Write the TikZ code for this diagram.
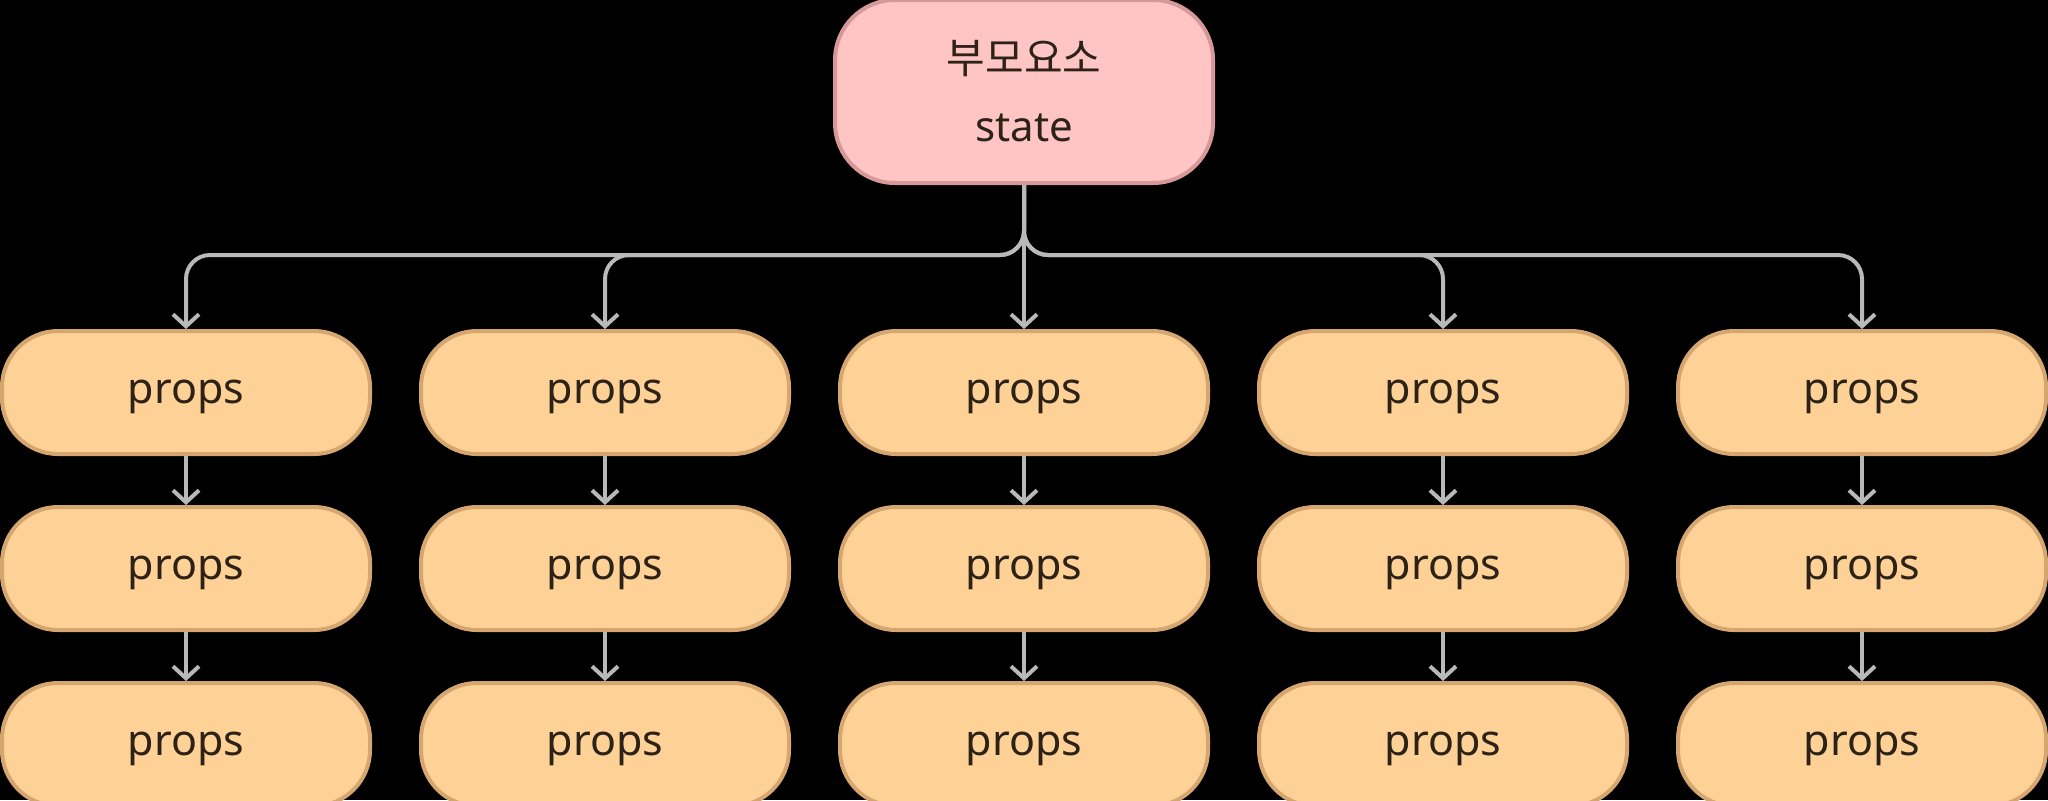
\documentclass[tikz,border=0pt]{standalone}
\usepackage{fontspec}
\setmainfont{Noto Sans}
\newfontfamily\kr{Noto Sans CJK KR}
\usetikzlibrary{positioning,arrows.meta}
\definecolor{pinkfill}{RGB}{255,197,197}
\definecolor{pinkline}{RGB}{214,152,152}
\definecolor{peachfill}{RGB}{254,209,150}
\definecolor{peachline}{RGB}{214,166,112}
\definecolor{ink}{RGB}{45,34,24}
\definecolor{wire}{RGB}{185,185,185}

\begin{document}
\begin{tikzpicture}[x=0.5pt, y=-0.5pt,
    parent/.style={draw=pinkline, fill=pinkfill, line width=2pt, rounded corners=30pt,
      minimum width=189pt, minimum height=91.5pt, align=center, text=ink,
      font=\fontsize{21pt}{34pt}\selectfont},
    child/.style={draw=peachline, fill=peachfill, line width=2pt, rounded corners=28pt,
      minimum width=184pt, minimum height=61.5pt, text=ink, text height=15pt, text depth=4pt,
      font=\fontsize{21.5pt}{25pt}\selectfont},
    link/.style={draw=wire, line width=2pt, -{Straight Barb[length=6pt,width=13pt]}}]
\useasboundingbox[fill=black] (0,0) rectangle (2048,800);
    \node[parent] (0) at (1024,91.5) {{\kr 부모요소}\\state};
    \node[child] (13) [below=72pt of 0] {props};
    \node[child] (12) [left=23.5pt of 13] {props};
    \node[child] (11) [left=23.5pt of 12] {props};
    \node[child] (14) [right=23.5pt of 13] {props};
    \node[child] (15) [right=23.5pt of 14] {props};
    \foreach \c in {1,...,5} {
      \node[child] (2\c) [below=24.5pt of 1\c] {props};
      \node[child] (3\c) [below=24.5pt of 2\c] {props};
    }
% arrows
\begin{scope}[rounded corners=12pt]
    \foreach \c in {1,2,4,5}
      \draw[link] (0.south) -- ++(0,-35pt) -| (1\c.north);
    \draw[link] (0.south) -- (13.north);
\end{scope}
    \foreach \c in {1,...,5} {
      \draw[link] (1\c) -- (2\c);
      \draw[link] (2\c) -- (3\c);
    }
\end{tikzpicture}
\end{document}
